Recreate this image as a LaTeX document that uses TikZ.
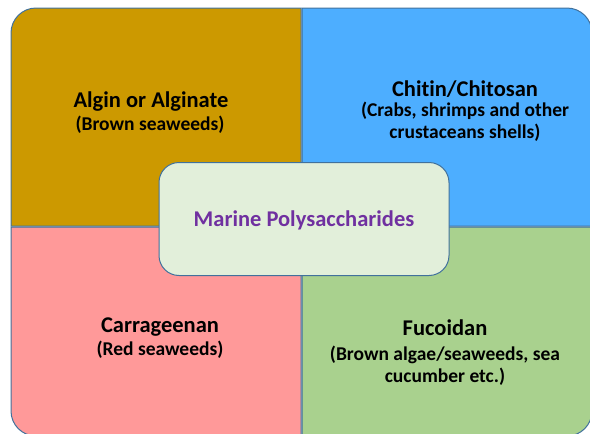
\documentclass[tikz,border=0pt]{standalone}
\usepackage{fontspec}
\setmainfont{Carlito}[Ligatures=NoCommon]
\usetikzlibrary{positioning}
\definecolor{gold}{RGB}{204,153,0}
\definecolor{sky}{RGB}{77,174,255}
\definecolor{rose}{RGB}{255,153,153}
\definecolor{leaf}{RGB}{169,209,142}
\definecolor{mint}{RGB}{226,239,218}
\definecolor{edge}{RGB}{65,113,156}
\definecolor{plum}{RGB}{112,48,160}
\tikzset{
  quad/.style={fill=#1,draw=edge,line width=1pt},
  quad/.default=gold,
  head/.style={anchor=base,text=black,font=\fontsize{22.5}{27}\selectfont\bfseries},
  sub/.style={anchor=base,text=black,align=center,font=\fontsize{19.5}{22}\selectfont\bfseries},
  hub/.style={fill=mint,draw=edge,line width=1pt,rounded corners=20pt,
    minimum width=290pt,minimum height=113pt,inner sep=0pt},
}

\begin{document}
\begin{tikzpicture}[x=1pt,y=-1pt]
  \useasboundingbox (0,0) rectangle (590,434);
  \clip (0,0) rectangle (590,434);
  % quadrants
  \draw[quad=gold] (11,226) [rounded corners=25pt] -- (11,8) [sharp corners] -- (301,8) -- (301,226) -- cycle;
  \draw[quad=sky] (302,8) [rounded corners=25pt] -- (592,8) [sharp corners] -- (592,226) -- (302,226) -- cycle;
  \draw[quad=rose] (301,227) -- (11,227) [rounded corners=25pt] -- (11,436) [sharp corners] -- (301,436) -- cycle;
  \draw[quad=leaf] (302,227) -- (592,227) [rounded corners=25pt] -- (592,436) [sharp corners] -- (302,436) -- cycle;
  % labels (base of a two-line label is its last line)
  \node[head] (algin) at (151,107) {Algin or Alginate};
  \node[sub] (alginsrc) at (150,130) {(Brown seaweeds)};
  \node[head] (chitin) at (465,96) {Chitin/Chitosan};
  \node[sub] (chitinsrc) at (465,138) {(Crabs, shrimps and other\\crustaceans shells)};
  \node[head] (carra) at (160,332) {Carrageenan};
  \node[sub] (carrasrc) at (160,355) {(Red seaweeds)};
  \node[head] (fuco) at (445,335) {Fucoidan};
  \node[sub] (fucosrc) at (445,382) {(Brown algae/seaweeds, sea\\cucumber etc.)};
  % centre
  \node[hub] (marine) at (304,219) {};
  \node[anchor=base,text=plum,font=\fontsize{22.5}{27}\selectfont\bfseries] (marinelbl) at (304,226) {Marine Polysaccharides};
\end{tikzpicture}
\end{document}
